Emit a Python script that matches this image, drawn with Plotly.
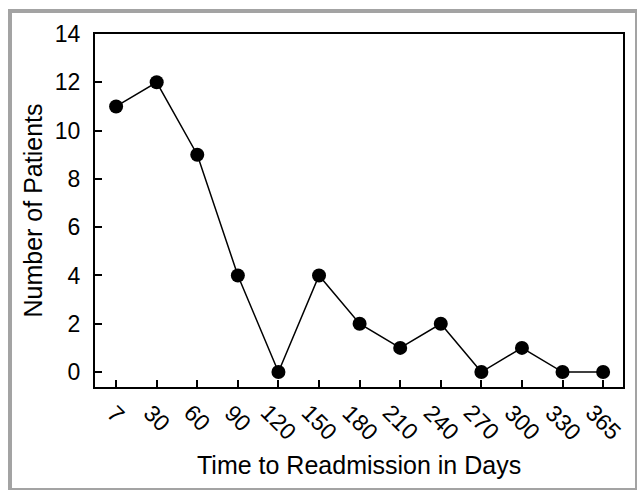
import plotly.graph_objects as go

days = ["7", "30", "60", "90", "120", "150", "180", "210", "240", "270", "300", "330", "365"]
patients = [11, 12, 9, 4, 0, 4, 2, 1, 2, 0, 1, 0, 0]
y_ticks = [0, 2, 4, 6, 8, 10, 12, 14]

FONT = "Liberation Sans, Arial, sans-serif"

fig = go.Figure(go.Scatter(
    x=days, y=patients, mode="lines+markers",
    line=dict(color="black", width=1.5),
    marker=dict(color="black", size=14),
    cliponaxis=False,
))

W, H = 639, 491
L, R, T, B = 95, 16, 34, 104
pw, ph = W - L - R, H - T - B

def px(x):
    return (x - L) / pw

def py(y):
    return (H - B - y) / ph

gray = "#a3a3a3"
shapes = [
    dict(type="line", xref="paper", yref="paper", x0=px(10), x1=px(10), y0=py(9), y1=py(490), line=dict(color=gray, width=4)),
    dict(type="line", xref="paper", yref="paper", x0=px(8), x1=px(637), y0=py(11), y1=py(11), line=dict(color=gray, width=4)),
    dict(type="line", xref="paper", yref="paper", x0=px(636), x1=px(636), y0=py(9), y1=py(490), line=dict(color=gray, width=2)),
    dict(type="line", xref="paper", yref="paper", x0=px(8), x1=px(637), y0=py(489), y1=py(489), line=dict(color=gray, width=2)),
]

# rotated category labels, centred under each tick (category index on the x axis)
annotations = [
    dict(x=i, xref="x", y=py(397), yref="paper", text=d, showarrow=False,
         textangle=45, xanchor="center", yanchor="top",
         font=dict(size=23, family=FONT, color="black"))
    for i, d in enumerate(days)
]
annotations.append(dict(
    x=0.5, xref="paper", y=py(465), yref="paper", text="Time to Readmission in Days",
    showarrow=False, xanchor="center", yanchor="middle",
    font=dict(size=25, family=FONT, color="black"),
))

fig.update_layout(
    width=W, height=H,
    margin=dict(l=L, r=R, t=T, b=B),
    paper_bgcolor="white", plot_bgcolor="white",
    showlegend=False,
    font=dict(family=FONT, color="black"),
    shapes=shapes,
    annotations=annotations,
    xaxis=dict(
        type="category", range=[-0.52, 12.49],
        showline=True, linecolor="black", linewidth=2, mirror=True,
        ticks="inside", ticklen=7, tickwidth=1.5, tickcolor="black",
        showticklabels=False,
        showgrid=False, zeroline=False,
    ),
    yaxis=dict(
        range=[-0.62, 14], tickvals=y_ticks,
        showline=True, linecolor="black", linewidth=2, mirror=True,
        ticks="inside", ticklen=7, tickwidth=1.5, tickcolor="black",
        tickfont=dict(size=23, family=FONT), ticklabelstandoff=8,
        showgrid=False, zeroline=False,
        title=dict(text="Number of Patients", font=dict(size=25, family=FONT), standoff=5),
    ),
)

fig.write_html("out.html", config={"displayModeBar": False},
               post_script="document.body.style.margin='0';document.body.style.padding='0';")
